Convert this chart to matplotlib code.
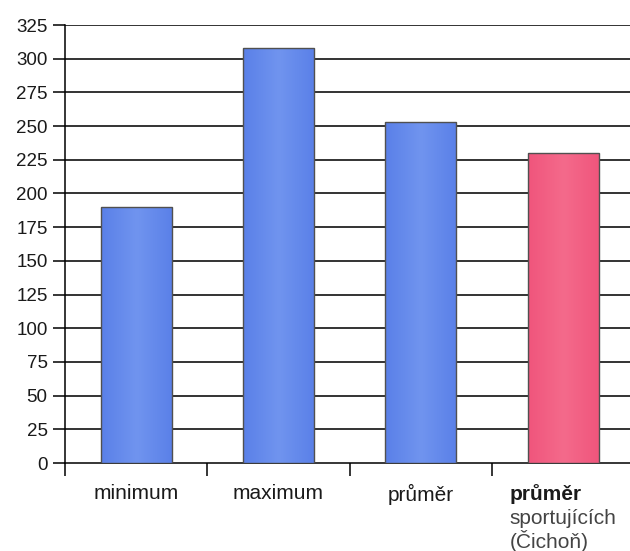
import numpy as np
import matplotlib.pyplot as plt
from matplotlib.colors import LinearSegmentedColormap

plt.rcParams['font.family'] = ['Liberation Sans', 'DejaVu Sans']

# --- DATA ---
categories = ['minimum', 'maximum', 'průměr', 'průměr']
subtitle = 'sportujících\n(Čichoň)'
values = [190, 308, 253, 230]
bar_edges = ['#5a80e8', '#5a80e8', '#5a80e8', '#f0557c']
bar_centers = ['#7094ef', '#7094ef', '#7094ef', '#f46a8b']
y_ticks = np.arange(0, 326, 25)

fig = plt.figure(figsize=(6.3, 5.51), dpi=100)
ax = fig.add_axes([65 / 630, 1 - 463 / 551, 1 - 65 / 630, (463 - 25) / 551])

x = np.arange(len(categories))
bars = ax.bar(x, values, width=0.5, color='none', edgecolor='#505050',
              linewidth=1.0, zorder=4)

# soft horizontal shading inside each bar
grad = np.concatenate([np.linspace(0, 1, 50), np.linspace(1, 0, 50)])[None, :]
for b, c0, c1 in zip(bars, bar_edges, bar_centers):
    cmap = LinearSegmentedColormap.from_list('bar', [c0, c1])
    x0, w, h = b.get_x(), b.get_width(), b.get_height()
    im = ax.imshow(grad, cmap=cmap, aspect='auto', zorder=3,
                   extent=[x0, x0 + w, 0, h], interpolation='bicubic')
    im.set_clip_path(b)

# horizontal grid behind the bars
for yv in y_ticks[1:]:
    ax.axhline(yv, color='#111111', linewidth=1.2, zorder=1)

ax.set_xlim(-0.5, 3.47)
ax.set_ylim(0, 325)
ax.set_yticks(y_ticks)
ax.set_yticklabels([str(v) for v in y_ticks], fontsize=13.5, color='#1a1a1a')

# category separators as ticks on the x axis
ax.set_xticks(np.arange(-0.5, 3.5, 1.0))
ax.set_xticklabels([])
ax.tick_params(axis='x', which='major', length=9, width=1.1, direction='out')
ax.tick_params(axis='y', length=8.5, width=1.1, direction='out', pad=4)

for side in ['top', 'right']:
    ax.spines[side].set_visible(False)
ax.spines['left'].set_linewidth(1.1)
ax.spines['bottom'].set_linewidth(1.1)

# category labels
trans = ax.get_xaxis_transform()
label_y = -0.048
for xi, name in zip(x[:3], categories[:3]):
    ax.text(xi, label_y, name, transform=trans, ha='center', va='top',
            fontsize=15, color='#1a1a1a')

sub = ax.text(x[3], label_y - 0.056, subtitle, transform=trans, ha='center',
              va='top', fontsize=15, color='#444444', multialignment='left',
              linespacing=1.12)
fig.canvas.draw()
left_px = sub.get_window_extent().x0
left_x = ax.transData.inverted().transform((left_px, 0))[0]
ax.text(left_x, label_y, categories[3], transform=trans, ha='left', va='top',
        fontsize=15, color='#1a1a1a', fontweight='bold')

fig.savefig('out.png', dpi=100)
